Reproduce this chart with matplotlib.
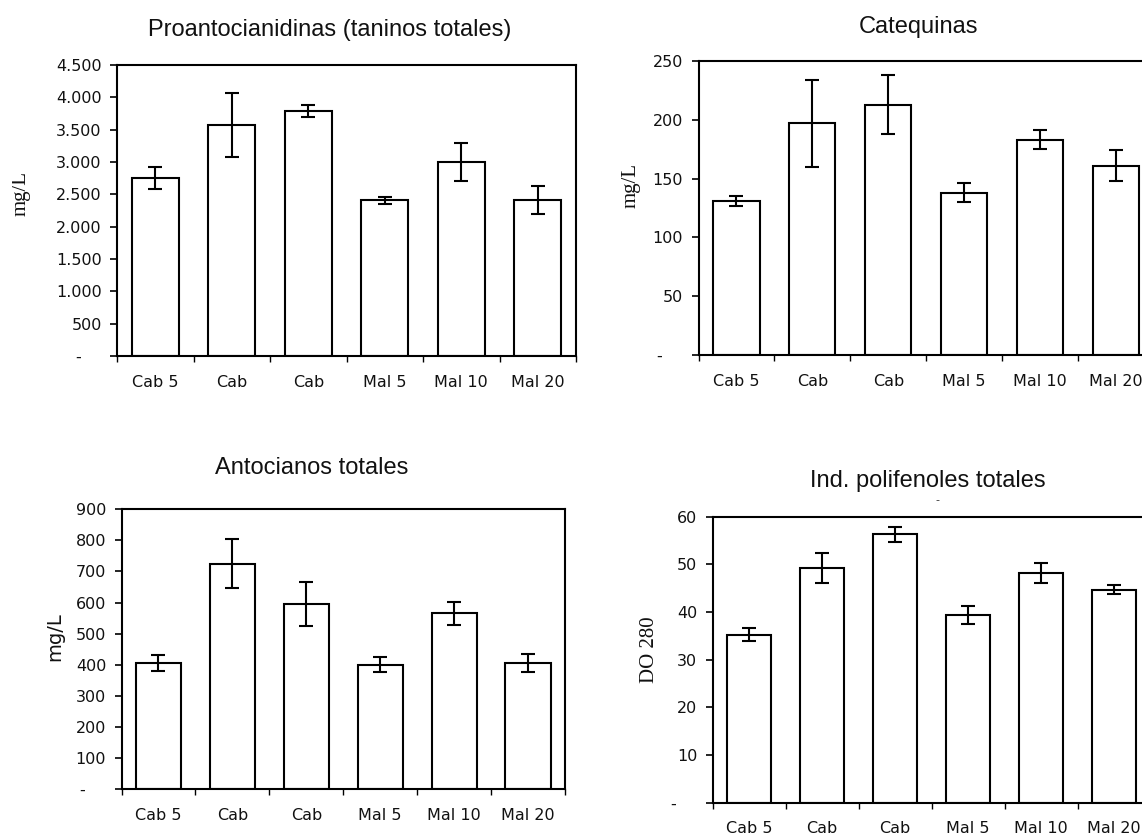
import matplotlib
matplotlib.use("Agg")
import matplotlib.pyplot as plt
from matplotlib.ticker import FixedLocator, FuncFormatter, NullFormatter
from matplotlib.transforms import Bbox

# ---- data -------------------------------------------------------------
categories = ["Cab 5", "Cab", "Cab", "Mal 5", "Mal 10", "Mal 20"]

proanto = [2750, 3570, 3790, 2405, 3000, 2410]
proanto_err = [175, 500, 88, 57, 300, 220]

catequinas = [131, 197, 213, 138, 183, 161]
catequinas_err = [4, 37, 25, 8, 8, 13]

antocianos = [405, 725, 595, 400, 565, 405]
antocianos_err = [25, 79, 71, 25, 38, 30]

polifenoles = [35.2, 49.2, 56.3, 39.4, 48.2, 44.7]
polifenoles_err = [1.4, 3.2, 1.6, 1.9, 2.1, 0.95]

# ---- figure -----------------------------------------------------------
W, H = 1142, 838
fig = plt.figure(figsize=(W / 100, H / 100), dpi=100)
fig.patch.set_facecolor("white")

SANS = ["DejaVu Sans"]
TITLE = ["Liberation Sans", "DejaVu Sans"]
SERIF = ["Liberation Serif", "DejaVu Serif"]


def rect(l, t, r, b):
    return [l / W, 1 - b / H, (r - l) / W, (b - t) / H]


def fpos(x, y):
    return x / W, 1 - y / H


def fmt_factory(thousands):
    def f(v, pos):
        if abs(v) < 1e-9:
            return "-\u2007\u2007"
        if thousands:
            return f"{int(round(v)):,}".replace(",", ".")
        return f"{int(round(v))}"
    return FuncFormatter(f)


def panel(box, values, errors, ymax, ystep, thousands=False):
    ax = fig.add_axes(rect(*box))
    n = len(values)
    centers = [i + 0.5 for i in range(n)]
    ax.bar(centers, values, width=0.61, color="white", edgecolor="black",
           linewidth=1.5, zorder=2)
    ax.errorbar(centers, values, yerr=errors, fmt="none", ecolor="black",
                elinewidth=1.5, capsize=5, capthick=1.5, zorder=3)
    ax.set_xlim(0, n)
    ax.set_ylim(0, ymax)
    ax.yaxis.set_major_locator(FixedLocator(
        [ystep * k for k in range(int(round(ymax / ystep)) + 1)]))
    ax.yaxis.set_major_formatter(fmt_factory(thousands))
    ax.xaxis.set_major_locator(FixedLocator(list(range(n + 1))))
    ax.xaxis.set_major_formatter(NullFormatter())
    ax.xaxis.set_minor_locator(FixedLocator(centers))
    ax.set_xticklabels(categories, minor=True)
    ax.tick_params(axis="y", which="major", direction="out", length=5,
                   width=1.2, pad=6, labelsize=11.5)
    ax.tick_params(axis="x", which="major", direction="out", length=4,
                   width=1.0)
    ax.tick_params(axis="x", which="minor", length=0, pad=13.5,
                   labelsize=11.5)
    for lbl in ax.get_yticklabels() + ax.get_xticklabels(minor=True):
        lbl.set_fontfamily(SANS)
        lbl.set_color("#111111")
    for sp in ax.spines.values():
        sp.set_linewidth(1.5)
        sp.set_color("black")
    return ax


ax1 = panel((117, 65, 576, 356), proanto, proanto_err, 4500, 500, True)
ax2 = panel((698.5, 61, 1153.9, 355), catequinas, catequinas_err, 250, 50)
ax3 = panel((121.5, 509.3, 565, 789), antocianos, antocianos_err, 900, 100)
ax4 = panel((712.7, 516.7, 1150.7, 802.5), polifenoles, polifenoles_err, 60, 10)

# ---- titles -----------------------------------------------------------
titles = [
    ("Proantocianidinas (taninos totales)", 330, 30),
    ("Catequinas", 918, 27),
    ("Antocianos totales", 312, 468),
    ("Ind. polifenoles totales", 928, 481),
]
for txt, x, y in titles:
    fig.text(*fpos(x, y), txt, ha="center", va="center", fontsize=17,
             family=TITLE, color="#111111")

fig.text(*fpos(937, 500), "-", ha="center", va="center", fontsize=8,
         family=SANS, color="#333333")

# ---- axis labels ------------------------------------------------------
def serif_label(text, x_base, y_center, clip_left):
    t = fig.text(*fpos(x_base, y_center), text, rotation=90,
                 rotation_mode="anchor", ha="center", va="baseline",
                 fontsize=15, family=SERIF, color="#111111")
    t.set_clip_box(Bbox([[clip_left, 0], [W, H]]))
    t.set_clip_on(True)
    return t


serif_label("mg/L", 26, 194, 12)
serif_label("mg/L", 636, 185, 620)
serif_label("DO 280", 654, 650, 639)

fig.text(*fpos(55, 637), "mg/L", rotation=90, ha="center", va="center",
         fontsize=14, family=SANS, color="#111111")

fig.savefig("out.png", dpi=100, facecolor="white")
